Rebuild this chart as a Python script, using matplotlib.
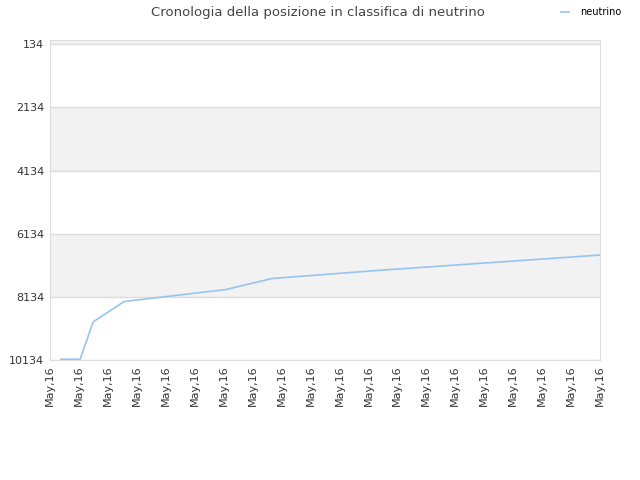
import matplotlib
matplotlib.use('Agg')
import matplotlib.pyplot as plt

# data (x in tick units, y = rank)
xs = [0.38, 1.04, 1.49, 2.56, 6.08, 7.67, 11.3, 19.0]
ranks = [10110, 10110, 8928, 8283, 7902, 7553, 7299, 6810]
yticks = [134, 2134, 4134, 6134, 8134, 10134]
xlabels = ['May,16'] * 20

fig = plt.figure(figsize=(6.4, 4.8), dpi=100)
ax = fig.add_axes([50/640, 1 - 360/480, 550/640, 320/480])

for lo, hi in [(0, 134), (2134, 4134), (6134, 8134)]:
    ax.axhspan(lo, hi, facecolor='#f2f2f2', zorder=0, lw=0)
for t in yticks:
    ax.axhline(t, color='#dddddd', lw=1, zorder=1)

ax.plot(xs, ranks, color='#96c3f0', lw=1.2, label='neutrino', zorder=3)

ax.set_xlim(0, 19)
ax.set_ylim(10134, 0)
ax.set_yticks(yticks)
ax.set_yticklabels([str(t) for t in yticks], fontsize=8, color='#333333')
ax.set_xticks(range(20))
ax.set_xticklabels(xlabels, rotation=90, fontsize=8, color='#333333')
ax.tick_params(length=0, pad=4)
for s in ax.spines.values():
    s.set_color('#dddddd')

fig.text(0.497, 0.988, 'Cronologia della posizione in classifica di neutrino',
         ha='center', va='top', fontsize=9.5, color='#444444')
ax.legend(loc='upper right', bbox_to_anchor=(1.055, 1.13), frameon=False,
          fontsize=7, handlelength=0.8, handletextpad=1.2)

fig.savefig('out.png', dpi=100)
